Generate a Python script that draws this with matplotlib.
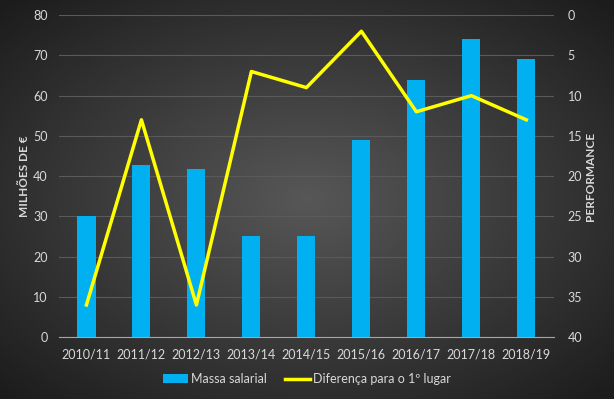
import numpy as np
import matplotlib
matplotlib.use("Agg")
import matplotlib.pyplot as plt
from matplotlib.colors import LinearSegmentedColormap

seasons = ["2010/11", "2011/12", "2012/13", "2013/14", "2014/15",
           "2015/16", "2016/17", "2017/18", "2018/19"]
massa_salarial = [30, 42.7, 41.7, 25.2, 25.2, 49, 64, 74, 69]
diferenca = [36, 13, 36, 7, 9, 2, 12, 10, 13]

plt.rcParams['font.family'] = ['Lato', 'DejaVu Sans']
txt = '#d9d9d9'

fig = plt.figure(figsize=(6.14, 3.99), dpi=100)

# radial gradient background
bg = fig.add_axes([0, 0, 1, 1], zorder=-10)
yy, xx = np.mgrid[-1:1:400j, -1:1:615j]
r = np.sqrt(xx ** 2 + yy ** 2)
cmap = LinearSegmentedColormap.from_list('bg', ['#575757', '#3a3a3a', '#1c1c1c'])
bg.imshow(r, cmap=cmap, vmin=0, vmax=1.4, aspect='auto', extent=[0, 1, 0, 1])
bg.axis('off')

ax = fig.add_axes([0.096, 0.155, 0.806, 0.807])
ax.set_facecolor('none')
x = np.arange(len(seasons))
bars = ax.bar(x, massa_salarial, width=0.33, color='#00b0f0', zorder=2,
              label='Massa salarial')
ax.set_ylim(0, 80)
ax.set_xlim(-0.5, len(seasons) - 0.5)
ax.set_yticks(range(0, 81, 10))
ax.set_xticks(x)
ax.set_xticklabels(seasons)
ax.grid(axis='y', color='#5a5a5a', linewidth=0.8, zorder=0)
for s in ['top', 'left', 'right']:
    ax.spines[s].set_visible(False)
ax.spines['bottom'].set_color('#a6a6a6')
ax.tick_params(colors=txt, labelsize=9, length=0, pad=8)
ax.set_ylabel('MILHÕES DE €', color=txt, fontsize=8.5, fontweight='bold')
ax.yaxis.set_label_coords(-0.058, 0.5)

ax2 = ax.twinx()
line, = ax2.plot(x, diferenca, color='#ffff00', linewidth=2.5, zorder=3,
                 label='Diferença para o 1º lugar')
ax2.set_ylim(40, 0)
ax2.set_yticks(range(0, 41, 5))
for s in ['top', 'left', 'right', 'bottom']:
    ax2.spines[s].set_visible(False)
ax2.tick_params(colors=txt, labelsize=9, length=0, pad=10)
ax2.set_ylabel('PERFORMANCE', color=txt, fontsize=8.5, fontweight='bold')
ax2.yaxis.set_label_coords(1.062, 0.5)

leg = fig.legend([bars, line], ['Massa salarial', 'Diferença para o 1º lugar'],
                 loc='center', bbox_to_anchor=(0.5, 0.05), ncol=2, frameon=False,
                 fontsize=9, handlelength=2.0, handletextpad=0.2, columnspacing=1.5)
for t in leg.get_texts():
    t.set_color(txt)

fig.savefig('out.png', dpi=100)
